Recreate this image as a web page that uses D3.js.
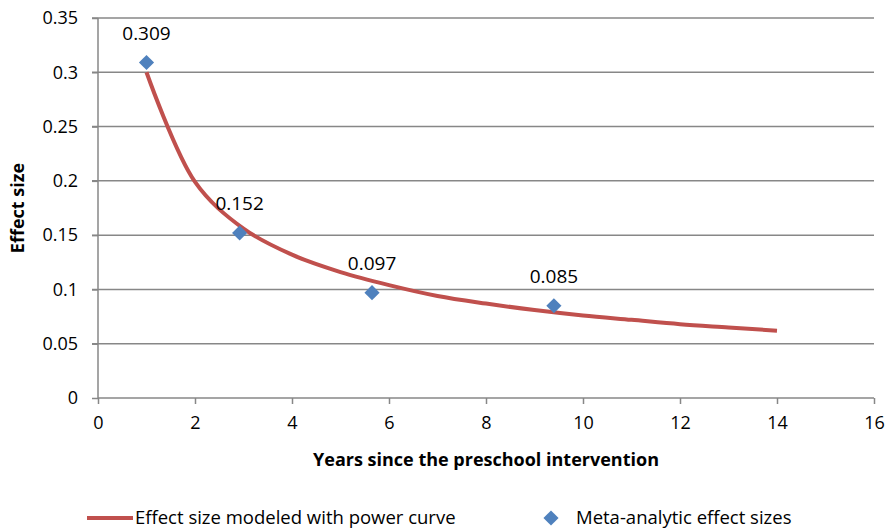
<!DOCTYPE html>
<meta charset="utf-8">
<style>
  body { margin: 0; background: #fff; }
  text { font-family: "Open Sans", "Noto Sans", sans-serif; fill: #000; }
</style>
<body>
<script src="https://d3js.org/d3.v7.min.js"></script>
<script>

// Data
const years   = [1, 2.92, 5.65, 9.4];
const effects = [0.309, 0.152, 0.097, 0.085];

// Power curve at whole years
const curveYears   = [1, 2, 3, 4, 5, 6, 7, 8, 9, 10, 11, 12, 13, 14];
const curveEffects = [0.300, 0.199, 0.156, 0.132, 0.116, 0.104, 0.094, 0.087, 0.081, 0.076, 0.072, 0.068, 0.065, 0.062];

const yTicks = [0, 0.05, 0.1, 0.15, 0.2, 0.25, 0.3, 0.35];
const xTicks = [0, 2, 4, 6, 8, 10, 12, 14, 16];

const W = 885, H = 531;
const margin = {top: 18, right: 11, bottom: 133, left: 98};

const svg = d3.select("body").append("svg")
    .attr("width", W)
    .attr("height", H);

const x = d3.scaleLinear().domain([0, 16]).range([margin.left, W - margin.right]);
const y = d3.scaleLinear().domain([0, 0.35]).range([H - margin.bottom, margin.top]);

// Horizontal gridlines
svg.append("g")
    .selectAll("line")
    .data(yTicks.slice(1))
    .join("line")
      .attr("x1", x(0) - 6)
      .attr("x2", x(16))
      .attr("y1", d => y(d))
      .attr("y2", d => y(d))
      .attr("stroke", "#878787")
      .attr("stroke-width", 1.5);

// Y axis
const yAxis = svg.append("g")
    .attr("transform", "translate(" + x(0) + ",0)")
    .call(d3.axisLeft(y).tickValues(yTicks).tickSize(6).tickPadding(14)
        .tickFormat(d => d3.format("")(+d.toFixed(2))));
yAxis.selectAll("path, line").attr("stroke", "#878787").attr("stroke-width", 1.5);
yAxis.select(".domain").attr("d", "M0," + y(0) + "V" + y(0.35));
yAxis.selectAll("text").style("font-size", "18px").attr("fill", "#000");

// X axis
const xAxis = svg.append("g")
    .attr("transform", "translate(0," + y(0) + ")")
    .call(d3.axisBottom(x).tickValues(xTicks).tickSize(6).tickPadding(12));
xAxis.selectAll("path, line").attr("stroke", "#878787").attr("stroke-width", 1.5);
xAxis.select(".domain").attr("d", "M" + x(0) + ",0H" + x(16));
xAxis.selectAll("text").style("font-size", "18px").attr("fill", "#000");

// Power curve
const curveData = curveYears.map((v, i) => [v, curveEffects[i]]);
svg.append("path")
    .datum(curveData)
    .attr("fill", "none")
    .attr("stroke", "#C0504D")
    .attr("stroke-width", 4)
    .attr("d", d3.line()
        .x(d => x(d[0]))
        .y(d => y(d[1]))
        .curve(d3.curveCatmullRom.alpha(0.5)));

// Diamonds
const pts = years.map((v, i) => [v, effects[i]]);
const diamond = d3.symbol().type(d3.symbolSquare).size(115);
svg.append("g")
    .selectAll("path")
    .data(pts)
    .join("path")
      .attr("d", diamond)
      .attr("transform", d => "translate(" + x(d[0]) + "," + y(d[1]) + ") rotate(45)")
      .attr("fill", "#4F81BD");

// Data labels
svg.append("g")
    .selectAll("text")
    .data(pts)
    .join("text")
      .attr("x", d => x(d[0]))
      .attr("y", d => y(d[1]) - 23)
      .attr("text-anchor", "middle")
      .style("font-size", "19px")
      .text(d => d[1].toFixed(3));

// Axis titles
svg.append("text")
    .attr("x", (x(0) + x(16)) / 2)
    .attr("y", 466)
    .attr("text-anchor", "middle")
    .style("font-size", "18px")
    .style("font-weight", "bold")
    .text("Years since the preschool intervention");

svg.append("text")
    .attr("transform", "translate(24," + ((y(0) + y(0.35)) / 2) + ") rotate(-90)")
    .attr("text-anchor", "middle")
    .style("font-size", "18px")
    .style("font-weight", "bold")
    .text("Effect size");

// Legend
const legend = svg.append("g").style("font-size", "18.5px");
legend.append("line")
    .attr("x1", 87).attr("x2", 133)
    .attr("y1", 518).attr("y2", 518)
    .attr("stroke", "#C0504D")
    .attr("stroke-width", 4);
legend.append("text")
    .attr("x", 135).attr("y", 524)
    .text("Effect size modeled with power curve");
legend.append("path")
    .attr("d", diamond)
    .attr("transform", "translate(551,518) rotate(45)")
    .attr("fill", "#4F81BD");
legend.append("text")
    .attr("x", 576).attr("y", 524)
    .text("Meta-analytic effect sizes");

</script>
</body>
